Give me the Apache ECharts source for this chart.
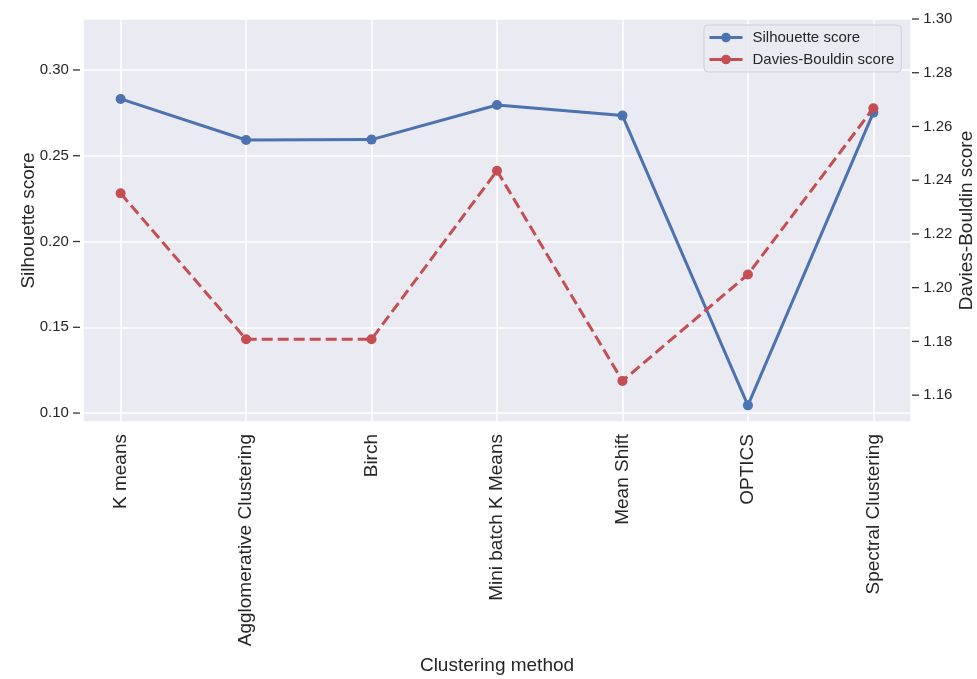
<!DOCTYPE html>
<html>
<head>
<meta charset="utf-8">
<script src="https://cdn.jsdelivr.net/npm/echarts@6/dist/echarts.min.js"></script>
<style>html,body{margin:0;padding:0;background:#fff;}#c{width:977px;height:679px;}</style>
</head>
<body>
<div id="c"></div>
<script>
const categories = ['K means', 'Agglomerative Clustering', 'Birch', 'Mini batch K Means', 'Mean Shift', 'OPTICS', 'Spectral Clustering'];
const silhouette = [0.2831, 0.2592, 0.2594, 0.2796, 0.2734, 0.1045, 0.2751];
const daviesBouldin = [1.2351, 1.1808, 1.1808, 1.2435, 1.1653, 1.2049, 1.2668];
const leftTicks = [0.10, 0.15, 0.20, 0.25, 0.30];
const rightTicks = [1.16, 1.18, 1.20, 1.22, 1.24, 1.26, 1.28, 1.30];
const xTicks = [0, 1, 2, 3, 4, 5, 6];

const FONT = '"Liberation Sans", Arial, sans-serif';
const TXT = '#262626';
const BLUE = '#4c72b0';
const RED = '#c44e52';

const chart = echarts.init(document.getElementById('c'), null, {renderer: 'canvas'});
const near = (v, arr) => arr.some(t => Math.abs(t - v) < 1e-6);
const dash = {width: 7, height: 1.3, backgroundColor: '#333333'};

chart.setOption({
  backgroundColor: '#ffffff',
  animation: false,
  textStyle: {fontFamily: FONT},
  grid: {left: 83, right: 66, top: 19, bottom: 257, show: true, backgroundColor: '#eaeaf2', borderWidth: 0,
         containLabel: false, outerBoundsMode: 'none'},
  legend: {
    orient: 'vertical', left: 704, top: 25,
    padding: [5, 7, 5, 4],
    itemWidth: 33, itemHeight: 12, itemGap: 7,
    backgroundColor: 'rgba(234,234,242,0.8)',
    borderColor: '#cfcfd8', borderWidth: 1, borderRadius: 4,
    lineStyle: {type: 'solid', width: 3},
    textStyle: {fontFamily: FONT, fontSize: 15, color: TXT, padding: [0, 0, 0, 5]},
    data: ['Silhouette score', 'Davies-Bouldin score']
  },
  xAxis: {
    type: 'value', min: -0.3, max: 6.3, splitNumber: 7,
    name: 'Clustering method', nameLocation: 'middle', nameGap: 234, nameMoveOverlap: false,
    nameTextStyle: {fontFamily: FONT, fontSize: 19, color: TXT},
    axisLine: {show: false}, axisTick: {show: false},
    splitLine: {show: true, lineStyle: {color: '#ffffff', width: 1.5}},
    axisLabel: {
      rotate: 90, margin: 12, fontFamily: FONT, fontSize: 19, color: TXT,
      customValues: xTicks,
      formatter: v => (near(v, xTicks) ? categories[Math.round(v)] : '')
    }
  },
  yAxis: [
    {
      type: 'value', position: 'left', min: 0.0948, max: 0.3297, splitNumber: 5,
      name: 'Silhouette score', nameLocation: 'middle', nameGap: 45, nameRotate: 90, nameMoveOverlap: false,
      nameTextStyle: {fontFamily: FONT, fontSize: 19, color: TXT},
      axisLine: {show: false},
      axisTick: {show: false},
      splitLine: {show: true, lineStyle: {color: '#ffffff', width: 1.5}},
      axisLabel: {
        margin: 3, fontFamily: FONT, fontSize: 15, color: TXT,
        customValues: leftTicks,
        formatter: v => (near(v, leftTicks) ? v.toFixed(2) + ' {t|}' : ''),
        rich: {t: dash}
      }
    },
    {
      type: 'value', position: 'right', min: 1.15, max: 1.30, splitNumber: 7,
      name: 'Davies-Bouldin score', nameLocation: 'middle', nameGap: 46, nameRotate: 90, nameMoveOverlap: false,
      nameTextStyle: {fontFamily: FONT, fontSize: 19, color: TXT},
      axisLine: {show: false},
      axisTick: {show: false},
      splitLine: {show: false},
      axisLabel: {
        margin: 1, fontFamily: FONT, fontSize: 15, color: TXT,
        customValues: rightTicks,
        formatter: v => (near(v, rightTicks) ? '{t|} ' + v.toFixed(2) : ''),
        rich: {t: dash}
      }
    }
  ],
  series: [
    {
      name: 'Silhouette score', type: 'line', yAxisIndex: 0,
      data: silhouette.map((v, i) => [xTicks[i], v]),
      symbol: 'circle', symbolSize: 10,
      lineStyle: {color: BLUE, width: 3},
      itemStyle: {color: BLUE},
      z: 2
    },
    {
      name: 'Davies-Bouldin score', type: 'line', yAxisIndex: 1,
      data: daviesBouldin.map((v, i) => [xTicks[i], v]),
      symbol: 'circle', symbolSize: 10,
      lineStyle: {color: RED, width: 3, type: [11, 5]},
      itemStyle: {color: RED},
      z: 3
    }
  ]
});
</script>
</body>
</html>
